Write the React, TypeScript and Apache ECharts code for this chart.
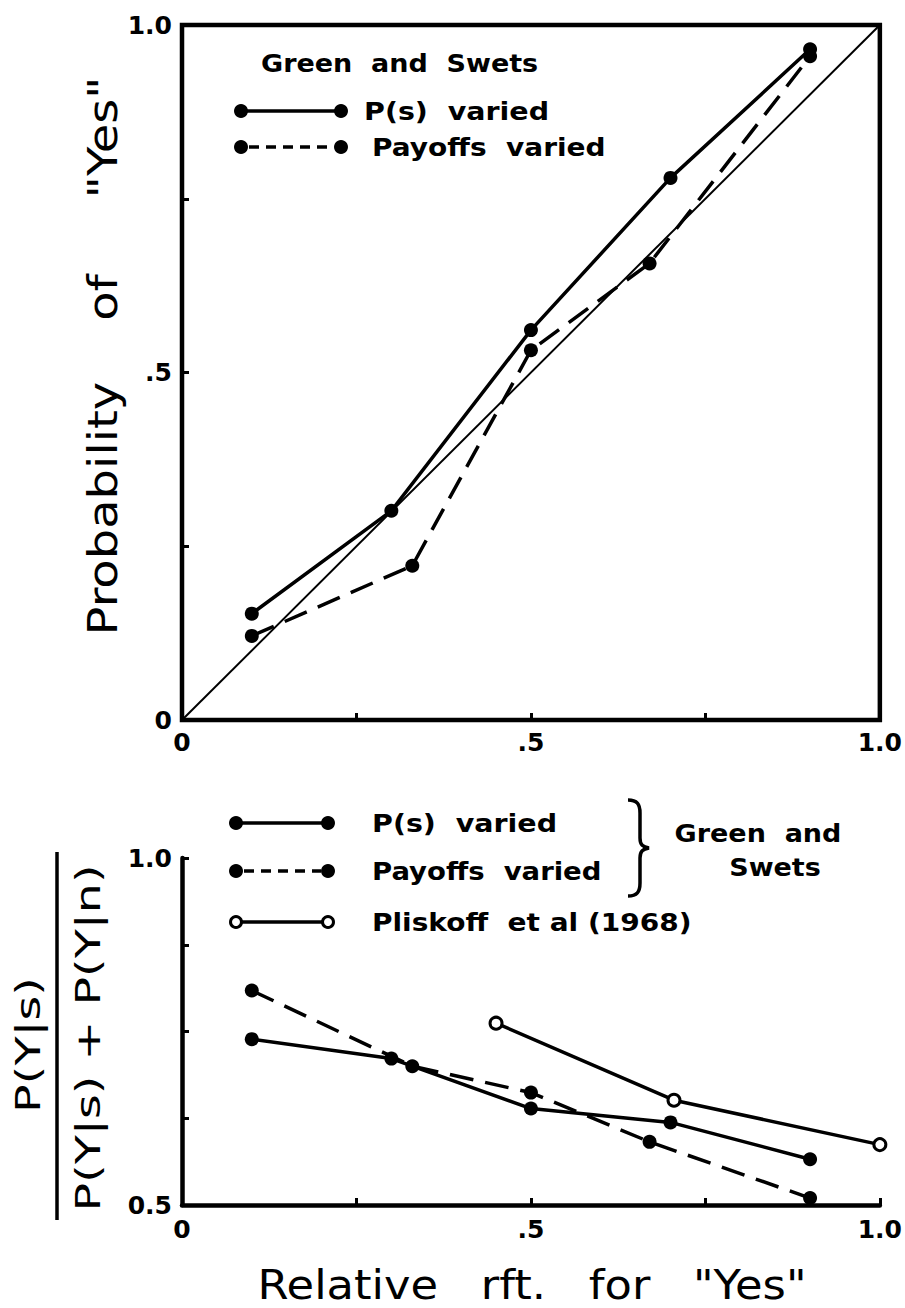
import React, { useEffect, useRef } from "react";
import * as echarts from "echarts";

// ---------- data ----------
// Top panel: Probability of "Yes" vs relative reinforcement for "Yes"
const psX = [0.1, 0.3, 0.5, 0.7, 0.9];
const psTopY = [0.153, 0.301, 0.561, 0.78, 0.965];
const payX = [0.1, 0.33, 0.5, 0.67, 0.9];
const payTopY = [0.121, 0.222, 0.532, 0.657, 0.955];
const diagX = [0, 1];
const diagY = [0, 1];

// Bottom panel: P(Y|s) / (P(Y|s) + P(Y|n))
const psBotY = [0.739, 0.711, 0.639, 0.619, 0.566];
const payBotY = [0.809, 0.7, 0.662, 0.591, 0.51];
const plisX = [0.45, 0.705, 1.0];
const plisY = [0.762, 0.651, 0.587];

// Tick labels
const xTickLabels: Record<string, string> = { "0": "0", "0.5": ".5", "1": "1.0" };
const topYTickLabels: Record<string, string> = { "0": "0", "0.5": ".5", "1": "1.0" };
const botYTickLabels: Record<string, string> = { "0.5": "0.5", "1": "1.0" };

// Texts
const seriesNames = ["P(s) varied", "Payoffs varied", "Pliskoff et al (1968)"];
const topTitle = 'Probability\u00a0\u00a0\u00a0\u00a0of\u00a0\u00a0\u00a0\u00a0\u00a0"Yes"';
const bottomTitle = 'Relative\u00a0\u00a0\u00a0rft.\u00a0\u00a0\u00a0for\u00a0\u00a0\u00a0"Yes"';
const fracNum = "P(Y|s)";
const fracDen = "P(Y|s) + P(Y|n)";

const zip = (xs: number[], ys: number[]) => xs.map((x, i) => [x, ys[i]]);

const BLACK = "#000";
const TXT = "DejaVu Sans";
const NUM = "DejaVu Sans";

function App() {
  const ref = useRef<HTMLDivElement>(null);

  useEffect(() => {
    if (!ref.current) return;
    echarts.graphic.registerShape(
      "brace",
      echarts.graphic.extendPath(
        "M0 0 C9 0 12 4 12 13 L12 38 C12 45 15 47 21 48 C15 49 12 51 12 58 L12 83 C12 92 9 96 0 96",
        {}
      )
    );
    const chart = echarts.init(ref.current, undefined, { renderer: "svg" });

    const fmt = (map: Record<string, string>) => (v: number) => {
      const k = String(Math.round(v * 1000) / 1000);
      return map[k] ?? "";
    };

    const axisLabel = (map: Record<string, string>, margin: number) => ({
      formatter: fmt(map),
      margin,
      fontSize: 25,
      fontWeight: "bold",
      fontFamily: NUM,
      color: BLACK,
      showMinLabel: true,
      showMaxLabel: true,
    });

    const tick = { show: true, inside: true, length: 7, lineStyle: { color: BLACK, width: 3 } };

    const legendText = (text: string, x: number, y: number, sx = 1.12, align = "left") => ({
      type: "text",
      x,
      y,
      scaleX: sx,
      style: {
        text,
        fill: BLACK,
        fontSize: 25,
        fontWeight: "bold",
        fontFamily: TXT,
        textAlign: align,
        textVerticalAlign: "middle",
      },
    });

    const dot = (cx: number, cy: number, open = false) => ({
      type: "circle",
      shape: { cx, cy, r: open ? 5.5 : 7 },
      style: open ? { fill: "#fff", stroke: BLACK, lineWidth: 3 } : { fill: BLACK },
      z: 10,
    });

    const legendLine = (x1: number, x2: number, y: number, dashed: boolean) => ({
      type: "line",
      shape: { x1, y1: y, x2, y2: y },
      style: { stroke: BLACK, lineWidth: 3.5, lineDash: dashed ? [10, 7] : null },
    });

    const graphics: any[] = [
      // top legend
      legendText("Green\u00a0\u00a0and\u00a0\u00a0Swets", 261, 63, 1.08),
      legendLine(241, 341, 111, false),
      dot(241, 111),
      dot(341, 111),
      legendText(seriesNames[0].replace(" ", "\u00a0\u00a0"), 364, 111, 1.14),
      legendLine(249, 334, 147, true),
      dot(241, 147),
      dot(341, 147),
      legendText(seriesNames[1].replace(" ", "\u00a0\u00a0"), 372, 147, 1.12),

      // bottom legend
      legendLine(236, 328, 823, false),
      dot(236, 823),
      dot(328, 823),
      legendText(seriesNames[0].replace(" ", "\u00a0\u00a0"), 372, 823, 1.14),
      legendLine(244, 321, 871, true),
      dot(236, 871),
      dot(328, 871),
      legendText(seriesNames[1].replace(" ", "\u00a0\u00a0"), 372, 871, 1.1),
      legendLine(236, 328, 922, false),
      dot(236, 922, true),
      dot(328, 922, true),
      legendText(seriesNames[2].replace(" ", "\u00a0\u00a0"), 372, 922, 1.12),
      {
        type: "brace",
        x: 628,
        y: 800,
        style: { stroke: BLACK, lineWidth: 3.5, fill: null },
      },
      legendText("Green\u00a0\u00a0and", 758, 833, 1.08, "center"),
      legendText("Swets", 775, 867, 1.08, "center"),

      // axis titles
      {
        type: "text",
        x: 103,
        y: 356,
        rotation: Math.PI / 2,
        scaleX: 1.2,
        style: {
          text: topTitle,
          fill: BLACK,
          fontSize: 40,
          fontFamily: TXT,
          textAlign: "center",
          textVerticalAlign: "middle",
        },
      },
      {
        type: "text",
        x: 532,
        y: 1285,
        scaleX: 1.12,
        style: {
          text: bottomTitle,
          fill: BLACK,
          fontSize: 40,
          fontFamily: TXT,
          textAlign: "center",
          textVerticalAlign: "middle",
        },
      },
      // fraction y title
      {
        type: "text",
        x: 28,
        y: 1045,
        rotation: Math.PI / 2,
        scaleX: 1.4,
        style: {
          text: fracNum,
          fill: BLACK,
          fontSize: 34,
          fontFamily: TXT,
          textAlign: "center",
          textVerticalAlign: "middle",
        },
      },
      {
        type: "line",
        shape: { x1: 57, y1: 852, x2: 57, y2: 1220 },
        style: { stroke: BLACK, lineWidth: 3.5 },
      },
      {
        type: "text",
        x: 88,
        y: 1038,
        rotation: Math.PI / 2,
        scaleX: 1.4,
        style: {
          text: fracDen,
          fill: BLACK,
          fontSize: 34,
          fontFamily: TXT,
          textAlign: "center",
          textVerticalAlign: "middle",
        },
      },
    ];

    const solid = { color: BLACK, width: 3.5, type: "solid" };
    const dashed = { color: BLACK, width: 3.5, type: [24, 12] };
    const filled = { color: BLACK };

    chart.setOption({
      animation: false,
      backgroundColor: "#fff",
      grid: [
        {
          left: 182,
          top: 25,
          width: 704,
          height: 695,
          show: true,
          borderColor: BLACK,
          borderWidth: 4.5,
          backgroundColor: "transparent",
        },
        { left: 182, top: 858, width: 704, height: 347 },
      ],
      xAxis: [
        {
          gridIndex: 0,
          type: "value",
          min: 0,
          max: 1,
          interval: 0.25,
          axisLine: { show: false },
          axisTick: tick,
          splitLine: { show: false },
          axisLabel: axisLabel(xTickLabels, 10),
        },
        {
          gridIndex: 1,
          type: "value",
          min: 0,
          max: 1,
          interval: 0.25,
          axisLine: { show: true, onZero: false, lineStyle: { color: BLACK, width: 4.5 } },
          axisTick: tick,
          splitLine: { show: false },
          axisLabel: axisLabel(xTickLabels, 12),
        },
      ],
      yAxis: [
        {
          gridIndex: 0,
          type: "value",
          min: 0,
          max: 1,
          interval: 0.25,
          axisLine: { show: false },
          axisTick: tick,
          splitLine: { show: false },
          axisLabel: axisLabel(topYTickLabels, 10),
        },
        {
          gridIndex: 1,
          type: "value",
          min: 0.5,
          max: 1,
          interval: 0.125,
          axisLine: { show: true, onZero: false, lineStyle: { color: BLACK, width: 4.5 } },
          axisTick: tick,
          splitLine: { show: false },
          axisLabel: axisLabel(botYTickLabels, 10),
        },
      ],
      series: [
        {
          name: "diagonal",
          type: "line",
          xAxisIndex: 0,
          yAxisIndex: 0,
          data: zip(diagX, diagY),
          showSymbol: false,
          symbol: "none",
          lineStyle: { color: BLACK, width: 2 },
          z: 2,
        },
        {
          name: seriesNames[0],
          type: "line",
          xAxisIndex: 0,
          yAxisIndex: 0,
          data: zip(psX, psTopY),
          symbol: "circle",
          symbolSize: 14,
          itemStyle: filled,
          lineStyle: solid,
          z: 3,
        },
        {
          name: seriesNames[1],
          type: "line",
          xAxisIndex: 0,
          yAxisIndex: 0,
          data: zip(payX, payTopY),
          symbol: "circle",
          symbolSize: 14,
          itemStyle: filled,
          lineStyle: dashed,
          z: 3,
        },
        {
          name: seriesNames[0] + " (ratio)",
          type: "line",
          xAxisIndex: 1,
          yAxisIndex: 1,
          data: zip(psX, psBotY),
          symbol: "circle",
          symbolSize: 14,
          itemStyle: filled,
          lineStyle: solid,
          z: 3,
        },
        {
          name: seriesNames[1] + " (ratio)",
          type: "line",
          xAxisIndex: 1,
          yAxisIndex: 1,
          data: zip(payX, payBotY),
          symbol: "circle",
          symbolSize: 14,
          itemStyle: filled,
          lineStyle: dashed,
          z: 3,
        },
        {
          name: seriesNames[2],
          type: "line",
          xAxisIndex: 1,
          yAxisIndex: 1,
          data: zip(plisX, plisY),
          symbol: "circle",
          symbolSize: 12,
          itemStyle: { color: "#fff", borderColor: BLACK, borderWidth: 3 },
          lineStyle: solid,
          clip: false,
          z: 3,
        },
      ],
      graphic: { elements: graphics },
    });

    return () => chart.dispose();
  }, []);

  return (
    <div
      ref={ref}
      style={{ position: "absolute", left: 0, top: 0, width: 905, height: 1308, background: "#fff" }}
    />
  );
}

export default App;
